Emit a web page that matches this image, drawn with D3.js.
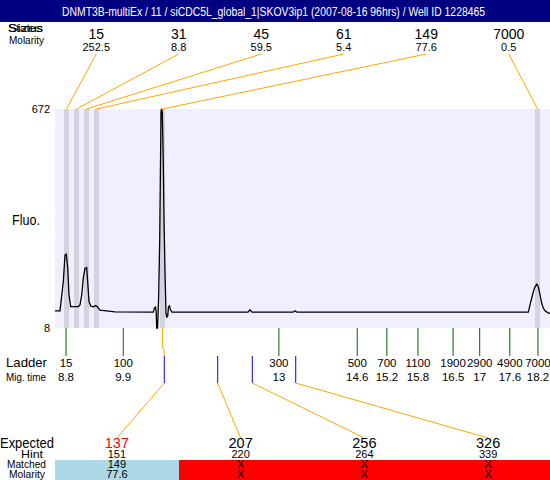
<!DOCTYPE html>
<html><head><meta charset="utf-8">
<script src="https://cdn.jsdelivr.net/npm/d3@7"></script>
<style>
html,body{margin:0;padding:0;background:#fff;}
svg{display:block;font-family:"Liberation Sans",Arial,sans-serif;}
rect{shape-rendering:crispEdges;}
</style></head>
<body>
<script>
const title = "DNMT3B-multiEx / 11  / siCDC5L_global_1|SKOV3ip1 (2007-08-16 96hrs) / Well ID 1228465";
const peakSizes = [15, 31, 45, 61, 149, 7000];
const peakMolarity = ["252.5", "8.8", "59.5", "5.4", "77.6", "0.5"];
const peakTimes = [8.809, 9.008, 9.207, 9.407, 10.721, 18.192];
const ladderSizes = [15, 100, 300, 500, 700, 1100, 1900, 2900, 4900, 7000];
const ladderTimes = [8.8, 9.94, 13.04, 14.6, 15.19, 15.81, 16.51, 17.04, 17.64, 18.2];
const traceTime = [8.58, 8.68, 8.70, 8.745, 8.779, 8.805, 8.833, 8.859, 8.893, 9.044, 9.078, 9.112, 9.144, 9.178, 9.211, 9.231, 9.257, 9.291, 9.343, 9.391, 9.431, 9.476, 9.775, 10.538, 10.562, 10.582, 10.596, 10.606, 10.622, 10.632, 10.646, 10.666, 10.678, 10.692, 10.702, 10.717, 10.737, 10.751, 10.771, 10.791, 10.805, 10.825, 10.841, 10.861, 10.881, 10.911, 12.425, 12.464, 12.504, 13.321, 13.361, 13.401, 18.008, 18.042, 18.076, 18.108, 18.142, 18.176, 18.208, 18.242, 18.275, 18.307, 18.341, 18.407, 18.44];
const traceFluo = [60, 60, 87, 147, 229, 232, 190, 108, 73, 73, 78, 108, 160, 189, 191, 148, 88, 75, 72, 76, 71, 62, 57, 56, 69, 71, 56, 8, 8, 47, 108, 281, 457, 663, 672, 663, 511, 342, 178, 53, 41, 44, 72, 75, 63, 56, 56, 63, 56, 56, 60, 56, 56, 78, 99, 118, 133, 141, 133, 108, 83, 68, 60, 53, 53];
const yTicks = [8, 672];
const expectedSizes = [137, 207, 256, 326];
const expectedTimes = [10.757, 11.821, 12.510, 13.375];
const hintSizes = [151, 220, 264, 339];
const matchedSizes = ["149", "X", "X", "X"];
const matchedMolarity = ["77.6", "X", "X", "X"];
const matchedPeak = [4, -1, -1, -1];
const expectedColor = ["#ff0000", "#000", "#000", "#000"];
const matchedFill = ["#add8e6", "#ff0000", "#ff0000", "#ff0000"];

const W = 550, H = 480;
const svg = d3.select("body").append("svg").attr("width", W).attr("height", H);

const plot = {left: 55, right: 550, top: 109, bottom: 328};
const x = d3.scaleLinear().domain([8.58, 18.44]).range([plot.left, plot.right]);
const y = d3.scaleLinear().domain([8, 672]).range([plot.bottom, plot.top]);

// header
svg.append("rect").attr("x", 0).attr("y", 0).attr("width", W).attr("height", 22).attr("fill", "#000080");
svg.append("text").attr("x", 273.5).attr("y", 16).attr("text-anchor", "middle")
  .attr("fill", "#fff").attr("font-size", 12).attr("textLength", 423).attr("lengthAdjust", "spacingAndGlyphs").text(title);

// top-left labels (drawn on top of each other, as in the reference)
["Sizes", "Status"].forEach(t => {
  svg.append("text").attr("x", 25.5).attr("y", 32).attr("text-anchor", "middle").attr("font-size", 11)
    .attr("textLength", 35).attr("lengthAdjust", "spacingAndGlyphs").text(t);
});
svg.append("text").attr("x", 26.5).attr("y", 44).attr("text-anchor", "middle").attr("font-size", 11)
  .attr("textLength", 35).attr("lengthAdjust", "spacingAndGlyphs").text("Molarity");

// plot background
svg.append("rect").attr("x", plot.left).attr("y", plot.top).attr("width", plot.right - plot.left)
  .attr("height", plot.bottom - plot.top).attr("fill", "#efefff");

// peak bands
svg.selectAll("rect.band").data(peakTimes).join("rect").attr("class", "band")
  .attr("x", d => x(d) - 2.5).attr("y", plot.top).attr("width", 5).attr("height", plot.bottom - plot.top)
  .attr("fill", "#d3d3df");

// top peak labels
const labelX = d3.scaleBand().domain(d3.range(peakSizes.length)).range([plot.left, plot.right]);
const lx = i => labelX(i) + labelX.bandwidth() / 2;
svg.selectAll("text.psize").data(peakSizes).join("text").attr("class", "psize")
  .attr("x", (d, i) => lx(i)).attr("y", 39).attr("text-anchor", "middle").attr("font-size", 14).text(d => d);
svg.selectAll("text.pmol").data(peakMolarity).join("text").attr("class", "pmol")
  .attr("x", (d, i) => lx(i)).attr("y", 51).attr("text-anchor", "middle").attr("font-size", 11).text(d => d);
svg.selectAll("line.pconn").data(peakTimes).join("line").attr("class", "pconn")
  .attr("x1", (d, i) => lx(i)).attr("y1", 54).attr("x2", d => x(d)).attr("y2", plot.top)
  .attr("stroke", "#ffa500").attr("stroke-width", 1);

// y labels
svg.selectAll("text.ytick").data(yTicks).join("text").attr("class", "ytick")
  .attr("x", 50).attr("y", d => y(d)).attr("dy", "0.35em").attr("text-anchor", "end").attr("font-size", 11).text(d => d);
svg.append("text").attr("x", 12).attr("y", 225).attr("font-size", 14).attr("textLength", 28).attr("lengthAdjust", "spacingAndGlyphs").text("Fluo.");

// trace
const line = d3.line().x(d => x(d[0])).y(d => y(d[1]));
svg.append("path").datum(traceTime.map((t, i) => [t, traceFluo[i]]))
  .attr("d", line).attr("fill", "none").attr("stroke", "#000").attr("stroke-width", 1.3);

// ladder
svg.selectAll("line.ladder").data(ladderTimes).join("line").attr("class", "ladder")
  .attr("x1", d => x(d)).attr("x2", d => x(d)).attr("y1", plot.bottom).attr("y2", 356)
  .attr("stroke", "#006400").attr("stroke-width", 1);
svg.selectAll("text.lsize").data(ladderSizes).join("text").attr("class", "lsize")
  .attr("x", (d, i) => x(ladderTimes[i])).attr("y", 367).attr("text-anchor", "middle").attr("font-size", 11.5).text(d => d);
svg.selectAll("text.ltime").data(ladderTimes).join("text").attr("class", "ltime")
  .attr("x", d => x(d)).attr("y", 381).attr("text-anchor", "middle").attr("font-size", 11.5).text(d => String(+d.toFixed(1)));
svg.append("text").attr("x", 26.5).attr("y", 367).attr("text-anchor", "middle").attr("font-size", 13)
  .attr("textLength", 41).attr("lengthAdjust", "spacingAndGlyphs").text("Ladder");
svg.append("text").attr("x", 26).attr("y", 381).attr("text-anchor", "middle").attr("font-size", 11.5)
  .attr("textLength", 40).attr("lengthAdjust", "spacingAndGlyphs").text("Mig. time");

// expected markers
const col = d3.scaleBand().domain(d3.range(expectedSizes.length)).range([plot.left, plot.right]);
const cx = i => col(i) + col.bandwidth() / 2;
svg.selectAll("line.exp").data(expectedTimes).join("line").attr("class", "exp")
  .attr("x1", d => x(d)).attr("x2", d => x(d)).attr("y1", 356).attr("y2", 383)
  .attr("stroke", "#0000ff").attr("stroke-width", 1);
svg.selectAll("line.econn").data(expectedTimes).join("line").attr("class", "econn")
  .attr("x1", d => x(d)).attr("y1", 383).attr("x2", (d, i) => cx(i)).attr("y2", 438)
  .attr("stroke", "#ffa500").attr("stroke-width", 1);
expectedTimes.forEach((t, i) => {
  if (matchedPeak[i] < 0) return;
  const px = x(peakTimes[matchedPeak[i]]);
  svg.append("path").attr("d", `M${px},${plot.bottom}L${px},347L${x(t)},351L${x(t)},356`)
    .attr("fill", "none").attr("stroke", "#ffa500").attr("stroke-width", 1);
});

// bottom table
svg.selectAll("rect.match").data(matchedFill).join("rect").attr("class", "match")
  .attr("x", (d, i) => Math.round(col(i))).attr("y", 460)
  .attr("width", (d, i) => Math.round(col(i) + col.bandwidth()) - Math.round(col(i))).attr("height", 20)
  .attr("fill", d => d);
svg.selectAll("text.esize").data(expectedSizes).join("text").attr("class", "esize")
  .attr("x", (d, i) => cx(i)).attr("y", 448).attr("text-anchor", "middle").attr("font-size", 14.5)
  .attr("fill", (d, i) => expectedColor[i]).text(d => d);
svg.selectAll("text.hint").data(hintSizes).join("text").attr("class", "hint")
  .attr("x", (d, i) => cx(i)).attr("y", 458).attr("text-anchor", "middle").attr("font-size", 11).text(d => d);
svg.selectAll("text.msize").data(matchedSizes).join("text").attr("class", "msize")
  .attr("x", (d, i) => cx(i)).attr("y", 468).attr("text-anchor", "middle").attr("font-size", 11).text(d => d);
svg.selectAll("text.mmol").data(matchedMolarity).join("text").attr("class", "mmol")
  .attr("x", (d, i) => cx(i)).attr("y", 478).attr("text-anchor", "middle").attr("font-size", 11).text(d => d);

const rowLabels = [["Expected", 27, 448, 14, 54], ["Hint", 32, 458, 11, 22], ["Matched", 26.5, 468, 11, 39], ["Molarity", 27, 478, 11, 36]];
rowLabels.forEach(([t, lxp, ly, fs, tl]) => {
  svg.append("text").attr("x", lxp).attr("y", ly).attr("text-anchor", "middle").attr("font-size", fs)
    .attr("textLength", tl).attr("lengthAdjust", "spacingAndGlyphs").text(t);
});
</script>
</body></html>
